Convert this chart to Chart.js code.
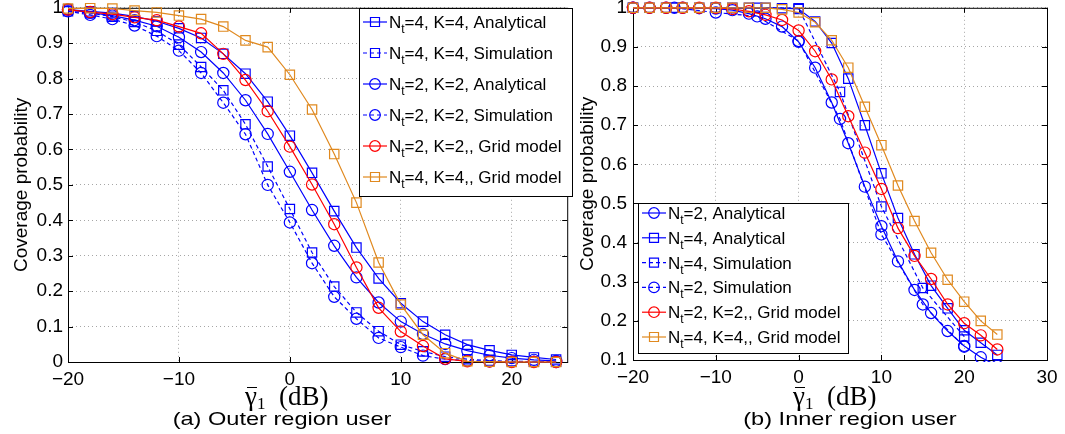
<!DOCTYPE html>
<html lang="en">
<head>
<meta charset="utf-8">
<script src="https://cdn.jsdelivr.net/npm/chart.js"></script>
<style>
  body { margin: 0; background: #fff; width: 1065px; height: 434px; position: relative; overflow: hidden;
         font-family: 'Liberation Sans', Arial, sans-serif; }
  .panel { position: absolute; top: 0; height: 434px; }
  #leftBox { left: 0; width: 575px; }
  #rightBox { left: 575px; width: 490px; }
  .xt { position: absolute; font-family: 'Liberation Serif', 'DejaVu Serif', serif; font-size: 27px;
        line-height: 27px; white-space: nowrap; color: #000; }
  .xt .g { position: relative; }
  .xt .g::before { content: ''; position: absolute; left: 2px; right: 0; top: 6px; border-top: 1.3px solid #000; }
  .xt sub { font-size: 17px; vertical-align: -4px; }
  .cap { position: absolute; font-size: 19px; line-height: 19px; white-space: nowrap; color: #000;
         transform: translateX(-50%) scaleX(1.24); }
</style>
</head>
<body>
  <div class="panel" id="leftBox"><canvas id="outerChart"></canvas></div>
  <div class="panel" id="rightBox"><canvas id="innerChart"></canvas></div>

  <div class="xt" style="left:245px; top:383px"><span class="g">γ</span><sub>1</sub>&nbsp;&nbsp;(dB)</div>
  <div class="cap" style="left:282px; top:409px">(a) Outer region user</div>
  <div class="xt" style="left:793px; top:383px"><span class="g">γ</span><sub>1</sub>&nbsp;&nbsp;(dB)</div>
  <div class="cap" style="left:850px; top:409px">(b) Inner region user</div>

<script>
// ---- data: outer region user (a) ----
const outerX = [-20, -18, -16, -14, -12, -10, -8, -6, -4, -2, 0, 2, 4, 6, 8, 10, 12, 14, 16, 18, 20, 22, 24];
const outerAnaN4 = [0.995, 0.99, 0.985, 0.976, 0.962, 0.942, 0.915, 0.870, 0.814, 0.735, 0.639, 0.534, 0.426, 0.323, 0.236, 0.166, 0.114, 0.077, 0.049, 0.033, 0.020, 0.013, 0.007];
const outerSimN4 = [0.99, 0.985, 0.975, 0.96, 0.935, 0.896, 0.833, 0.767, 0.671, 0.552, 0.432, 0.309, 0.213, 0.140, 0.087, 0.049, 0.030, 0.015, 0.008, 0.004, 0.002, 0.001, 0.001];
const outerAnaN2 = [0.995, 0.986, 0.978, 0.965, 0.948, 0.917, 0.875, 0.816, 0.739, 0.644, 0.537, 0.429, 0.328, 0.239, 0.168, 0.114, 0.079, 0.051, 0.032, 0.019, 0.011, 0.006, 0.003];
const outerSimN2 = [0.99, 0.98, 0.968, 0.95, 0.92, 0.879, 0.816, 0.732, 0.643, 0.500, 0.394, 0.279, 0.184, 0.122, 0.068, 0.042, 0.018, 0.008, 0.004, 0.002, 0.001, 0.001, 0];
const outerGridN2 = [0.995, 0.988, 0.982, 0.973, 0.965, 0.947, 0.928, 0.870, 0.796, 0.708, 0.608, 0.501, 0.389, 0.267, 0.153, 0.086, 0.045, 0.009, 0.002, 0.001, 0, 0, 0];
const outerGridN4 = [0.998, 0.999, 0.998, 0.992, 0.987, 0.978, 0.968, 0.947, 0.908, 0.889, 0.811, 0.713, 0.587, 0.450, 0.281, 0.162, 0.077, 0.025, 0.002, 0.001, 0, 0, 0];
const outerXTicks = [-20, -10, 0, 10, 20];
const outerYTicks = [0, 0.1, 0.2, 0.3, 0.4, 0.5, 0.6, 0.7, 0.8, 0.9, 1];

// ---- data: inner region user (b) ----
const innerX = [-20, -18, -16, -14, -12, -10, -8, -6, -4, -2, 0, 2, 4, 6, 8, 10, 12, 14, 16, 18, 20, 22, 24];
const innerSimX = [-20, -15, -10, -5, 0, 5, 10, 15, 20];
const innerAnaN2 = [1, 1, 1, 1, 0.999, 0.998, 0.994, 0.985, 0.972, 0.952, 0.913, 0.847, 0.758, 0.654, 0.543, 0.442, 0.352, 0.279, 0.220, 0.174, 0.136, 0.107, 0.085];
const innerAnaN4 = [1, 1, 1, 1, 1, 1, 1, 1, 1, 0.999, 0.997, 0.965, 0.910, 0.819, 0.700, 0.577, 0.463, 0.370, 0.290, 0.232, 0.176, 0.144, 0.113];
const innerSimN4 = [1, 1, 1, 1, 0.999, 0.785, 0.492, 0.284, 0.160];
const innerSimN2 = [1, 1, 0.988, 0.978, 0.915, 0.716, 0.421, 0.242, 0.134];
const innerGridN2 = [1, 1, 1, 1, 1, 1, 0.997, 0.991, 0.982, 0.969, 0.942, 0.889, 0.817, 0.723, 0.630, 0.537, 0.437, 0.366, 0.307, 0.242, 0.194, 0.163, 0.127];
const innerGridN4 = [1, 1, 1, 1, 1, 1, 1, 1, 1, 0.996, 0.988, 0.963, 0.917, 0.847, 0.747, 0.649, 0.546, 0.455, 0.374, 0.305, 0.249, 0.200, 0.165];
const innerXTicks = [-20, -10, 0, 10, 20, 30];
const innerYTicks = [0.1, 0.2, 0.3, 0.4, 0.5, 0.6, 0.7, 0.8, 0.9, 1];

const BLUE = '#0000FF', RED = '#FF0000', ORANGE = '#E0891F';
const sansFont = { family: "'Liberation Sans', Arial, sans-serif", size: 19 };

function pts(xs, ys) {
  return xs.map((x, i) => ({ x: x, y: ys[i] }));
}

function series(label, xs, ys, color, shape, dashed, idx, clip) {
  return {
    label: label,
    data: pts(xs, ys),
    borderColor: color,
    backgroundColor: 'rgba(0,0,0,0)',
    borderWidth: 1.2,
    borderDash: dashed ? [4, 3] : [],
    pointStyle: shape,
    pointRadius: shape === 'rect' ? 6.6 : 5.6,
    pointBorderColor: color,
    pointBackgroundColor: 'rgba(0,0,0,0)',
    pointBorderWidth: 1.2,
    tension: 0,
    order: 10 - idx,
    clip: clip
  };
}

// box round the plot with ticks pointing inward, like matlab
const frame = {
  id: 'frame',
  beforeDatasetsDraw(chart) {
    const { ctx, chartArea: a, scales } = chart;
    ctx.save();
    ctx.strokeStyle = '#000';
    ctx.lineWidth = 1;
    ctx.setLineDash([]);
    ctx.strokeRect(a.left + 0.5, a.top + 0.5, a.right - a.left, a.bottom - a.top);
    ctx.beginPath();
    scales.x.ticks.forEach(t => {
      const px = Math.round(scales.x.getPixelForValue(t.value)) + 0.5;
      ctx.moveTo(px, a.bottom); ctx.lineTo(px, a.bottom - 5);
      ctx.moveTo(px, a.top); ctx.lineTo(px, a.top + 5);
    });
    scales.y.ticks.forEach(t => {
      const py = Math.round(scales.y.getPixelForValue(t.value)) + 0.5;
      ctx.moveTo(a.left, py); ctx.lineTo(a.left + 5, py);
      ctx.moveTo(a.right, py); ctx.lineTo(a.right - 5, py);
    });
    ctx.stroke();
    ctx.restore();
  }
};

// legend with subscript t, drawn inside the plot
const legendBox = {
  id: 'legendBox',
  afterDraw(chart, args, o) {
    const ctx = chart.ctx;
    ctx.save();
    ctx.fillStyle = '#fff';
    ctx.fillRect(o.x, o.y, o.w, o.h);
    ctx.strokeStyle = '#000';
    ctx.lineWidth = 1;
    ctx.strokeRect(o.x + 0.5, o.y + 0.5, o.w, o.h);
    chart.data.datasets.forEach((ds, row) => {
      const cy = o.y + o.first + row * o.gap;
      const mx = o.x + 16;
      ctx.strokeStyle = ds.borderColor;
      ctx.lineWidth = ds.borderWidth;
      ctx.setLineDash(ds.borderDash);
      ctx.beginPath();
      ctx.moveTo(o.x + 4, cy);
      ctx.lineTo(o.x + 28, cy);
      ctx.stroke();
      ctx.setLineDash([]);
      ctx.beginPath();
      if (ds.pointStyle === 'rect') {
        ctx.rect(mx - 4.5, cy - 4.5, 9, 9);
      } else {
        ctx.arc(mx, cy, 5.3, 0, Math.PI * 2);
      }
      ctx.stroke();

      const parts = ds.label.split('_t');
      let tx = o.x + 30;
      const base = cy + 6;
      ctx.fillStyle = '#000';
      ctx.textBaseline = 'alphabetic';
      ctx.font = "17px 'Liberation Sans', Arial, sans-serif";
      ctx.fillText(parts[0], tx, base);
      tx += ctx.measureText(parts[0]).width;
      ctx.font = "12px 'Liberation Sans', Arial, sans-serif";
      ctx.fillText('t', tx, base + 5);
      tx += ctx.measureText('t').width;
      ctx.font = "17px 'Liberation Sans', Arial, sans-serif";
      ctx.fillText(parts[1], tx, base);
    });
    ctx.restore();
  }
};

function buildChart(id, cfg) {
  return new Chart(document.getElementById(id), {
    type: 'line',
    data: { datasets: cfg.datasets },
    options: {
      animation: false,
      responsive: true,
      maintainAspectRatio: false,
      events: [],
      layout: { padding: cfg.padding },
      plugins: {
        legend: { display: false },
        tooltip: { enabled: false },
        legendBox: cfg.legend
      },
      scales: {
        x: {
          type: 'linear',
          min: cfg.xMin,
          max: cfg.xMax,
          afterBuildTicks: s => { s.ticks = cfg.xTicks.map(v => ({ value: v })); },
          afterFit: s => { s.height = cfg.xAxisHeight; s.paddingLeft = 0; s.paddingRight = 0; },
          grid: { color: 'rgba(0,0,0,0.35)', drawTicks: false },
          border: { display: false, dash: [1, 3] },
          ticks: {
            font: sansFont, color: '#000', padding: 6, maxRotation: 0, autoSkip: false,
            callback: v => String(v).replace('-', '\u2212')
          }
        },
        y: {
          type: 'linear',
          min: cfg.yMin,
          max: 1,
          afterBuildTicks: s => { s.ticks = cfg.yTicks.map(v => ({ value: v })); },
          afterFit: s => { s.width = cfg.yAxisWidth; s.paddingTop = 0; s.paddingBottom = 0; },
          grid: { color: 'rgba(0,0,0,0.35)', drawTicks: false },
          border: { display: false, dash: [1, 3] },
          ticks: {
            font: sansFont, color: '#000', padding: cfg.yTickPad, autoSkip: false,
            callback: v => String(Math.round(v * 10) / 10)
          },
          title: {
            display: true, text: 'Coverage probability', font: sansFont, color: '#000',
            padding: { top: cfg.yTitlePad, bottom: 0 }
          }
        }
      }
    },
    plugins: [frame, legendBox]
  });
}

const outerClip = { left: 8, top: 8, right: 8, bottom: 8 };
buildChart('outerChart', {
  datasets: [
    series('N_t=4, K=4, Analytical', outerX, outerAnaN4, BLUE, 'rect', false, 0, outerClip),
    series('N_t=4, K=4, Simulation', outerX, outerSimN4, BLUE, 'rect', true, 1, outerClip),
    series('N_t=2, K=2, Analytical', outerX, outerAnaN2, BLUE, 'circle', false, 2, outerClip),
    series('N_t=2, K=2, Simulation', outerX, outerSimN2, BLUE, 'circle', true, 3, outerClip),
    series('N_t=2, K=2,, Grid model', outerX, outerGridN2, RED, 'circle', false, 4, outerClip),
    series('N_t=4, K=4,, Grid model', outerX, outerGridN4, ORANGE, 'rect', false, 5, outerClip)
  ],
  padding: { top: 6, right: 2, left: 0, bottom: 0 },
  xMin: -20, xMax: 25, xTicks: outerXTicks, xAxisHeight: 72,
  yMin: 0, yTicks: outerYTicks, yAxisWidth: 68, yTickPad: 5, yTitlePad: 10,
  legend: { x: 359, y: 8, w: 213, h: 188, first: 14, gap: 31 }
});

const innerClip = { left: 8, top: 8, right: 8, bottom: 2 };
buildChart('innerChart', {
  datasets: [
    series('N_t=2, Analytical', innerX, innerAnaN2, BLUE, 'circle', false, 0, innerClip),
    series('N_t=4, Analytical', innerX, innerAnaN4, BLUE, 'rect', false, 1, innerClip),
    series('N_t=4, Simulation', innerSimX, innerSimN4, BLUE, 'rect', true, 2, innerClip),
    series('N_t=2, Simulation', innerSimX, innerSimN2, BLUE, 'circle', true, 3, innerClip),
    series('N_t=2, K=2,, Grid model', innerX, innerGridN2, RED, 'circle', false, 4, innerClip),
    series('N_t=4, K=4,, Grid model', innerX, innerGridN4, ORANGE, 'rect', false, 5, innerClip)
  ],
  padding: { top: 4, right: 18, left: 0, bottom: 0 },
  xMin: -20, xMax: 30, xTicks: innerXTicks, xAxisHeight: 74,
  yMin: 0.1, yTicks: innerYTicks, yAxisWidth: 58, yTickPad: 6, yTitlePad: 1,
  legend: { x: 63, y: 203, w: 210, h: 150, first: 10, gap: 24.8 }
});
</script>
</body>
</html>
